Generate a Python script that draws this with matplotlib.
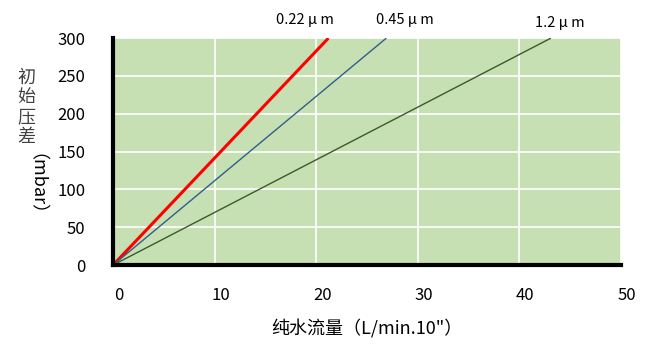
import matplotlib.pyplot as plt
import matplotlib.transforms as mtransforms

plt.rcParams['font.family'] = ['Noto Sans CJK SC', 'DejaVu Sans']

# flow at 300 mbar for each filter rating (lines start at origin)
sizes = ['0.22 μ m', '0.45 μ m', '1.2 μ m']
flow_end = [21.2, 26.9, 43.1]
dp_end = [300, 300, 300]
colors = ['#FF0000', '#2F5F8A', '#3A5A28']
widths = [2.2, 1.0, 1.0]

fig = plt.figure(figsize=(6.48, 3.53), dpi=100)
ax = fig.add_axes([0.1744, 0.249, 0.784, 0.643])
ax.set_facecolor('#C6E0B4')

for f, p, c, w in zip(flow_end, dp_end, colors, widths):
    ax.plot([0, f], [0, p], color=c, lw=w, solid_capstyle='butt')

ax.set_xlim(0, 50)
ax.set_ylim(0, 300)
ax.set_xticks(range(0, 51, 10))
ax.set_yticks(range(0, 301, 50))
ax.grid(True, color='white', lw=1.2)
ax.set_axisbelow(True)

for s in ['top', 'right']:
    ax.spines[s].set_visible(False)
for s in ['left', 'bottom']:
    ax.spines[s].set_linewidth(3)
    ax.spines[s].set_color('black')

ax.tick_params(length=0, labelsize=12)
ax.tick_params(axis='x', pad=16)
ax.tick_params(axis='y', pad=20)
# x tick labels sit a little right of their gridlines in the original
shift = mtransforms.ScaledTranslation(0.06, 0, fig.dpi_scale_trans)
for t in ax.get_xticklabels():
    t.set_transform(t.get_transform() + shift)

# series labels above the plot
label_pos = [(18.9, 324), (28.7, 324), (44.0, 320)]
for (x, y), s in zip(label_pos, sizes):
    ax.text(x, y, s, ha='center', va='center', fontsize=10.5, clip_on=False)

ax.set_xlabel('纯水流量（L/min.10"）', fontsize=13, labelpad=11)

# vertical y label: CJK upright, the rest rotated
fig.text(26 / 648, 1 - 107 / 353, '初\n始\n压\n差', ha='center', va='center',
         fontsize=13, linespacing=1.12, color='#404040')
fig.text(26 / 648, 1 - 194 / 353, '（mbar）', ha='center', va='center',
         fontsize=13, rotation=-90)

fig.savefig('out.png', dpi=100)
